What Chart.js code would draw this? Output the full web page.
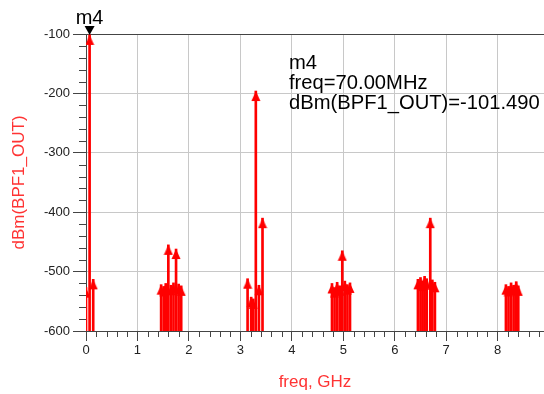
<!DOCTYPE html>
<html>
<head>
<meta charset="utf-8">
<script src="https://cdn.jsdelivr.net/npm/chart.js@4.4.0/dist/chart.umd.min.js"></script>
<style>
  html, body { margin: 0; padding: 0; background: #fff; }
</style>
</head>
<body>
<canvas id="specChart" width="544" height="394"></canvas>
<script>
// spectrum at the BPF1 output: frequency in GHz, level in dBm
var freqs = [0.00, 0.07, 0.14,
  1.46, 1.51, 1.55, 1.60, 1.65, 1.70, 1.75, 1.80, 1.85,
  3.14, 3.21, 3.25, 3.30, 3.36, 3.43,
  4.78, 4.83, 4.88, 4.93, 4.98, 5.03, 5.08, 5.13,
  6.45, 6.50, 6.54, 6.58, 6.62, 6.69, 6.73, 6.78,
  8.16, 8.21, 8.26, 8.31, 8.36, 8.40];
var levels = [-527, -101.49, -513,
  -522, -525, -520, -455, -523, -519, -462, -521, -524,
  -512, -543, -546, -196, -523, -410,
  -520, -527, -518, -524, -465, -516, -522, -519,
  -513, -510, -516, -508, -512, -410, -514, -518,
  -522, -525, -519, -523, -517, -524];
var xTicks = [0, 1, 2, 3, 4, 5, 6, 7, 8];
var yTicks = [-600, -500, -400, -300, -200, -100];

// marker m4
var markerName = 'm4';
var markerFreq = 0.07;
var markerLevel = -101.49;
var readout = ['m4', 'freq=70.00MHz', 'dBm(BPF1_OUT)=-101.490'];

var RED = '#ff0000';
var LABEL_RED = '#ff3333';
var AXIS = '#444444';

// arrow head image, tip at the centre so it sits on the value
var arrow = document.createElement('canvas');
arrow.width = 10; arrow.height = 22;
(function() {
  var c = arrow.getContext('2d');
  c.fillStyle = RED;
  c.beginPath();
  c.moveTo(5, 11);
  c.lineTo(0.5, 21);
  c.lineTo(9.5, 21);
  c.closePath();
  c.fill();
})();

var stems = freqs.map(function(f, i) { return { x: f, y: [-600, levels[i]] }; });
var heads = freqs.map(function(f, i) { return { x: f, y: levels[i] }; });

// minor ticks, marker and readout text
var extras = {
  id: 'extras',
  afterDraw: function(chart) {
    var ctx = chart.ctx, xs = chart.scales.x, ys = chart.scales.y, a = chart.chartArea;
    ctx.save();
    ctx.strokeStyle = AXIS;
    ctx.lineWidth = 1;
    ctx.beginPath();
    for (var v = -580; v < -100; v += 20) {
      if (v % 100 === 0) continue;
      var py = Math.round(ys.getPixelForValue(v)) + 0.5;
      ctx.moveTo(a.left - 7, py);
      ctx.lineTo(a.left, py);
    }
    for (var i = 1; i * 0.2 <= xs.max; i++) {
      if (i % 5 === 0) continue;
      var px = Math.round(xs.getPixelForValue(i * 0.2)) + 0.5;
      ctx.moveTo(px, a.bottom);
      ctx.lineTo(px, a.bottom + 6);
    }
    ctx.stroke();

    var mx = xs.getPixelForValue(markerFreq), my = ys.getPixelForValue(markerLevel);
    ctx.fillStyle = '#000';
    ctx.beginPath();
    ctx.moveTo(mx, my);
    ctx.lineTo(mx - 5, my - 9);
    ctx.lineTo(mx + 5, my - 9);
    ctx.closePath();
    ctx.fill();
    ctx.font = '20px "Liberation Sans", Arial, sans-serif';
    ctx.textAlign = 'center';
    ctx.textBaseline = 'alphabetic';
    ctx.fillText(markerName, mx, my - 11);

    ctx.font = '20.2px "Liberation Sans", Arial, sans-serif';
    ctx.textAlign = 'left';
    readout.forEach(function(t, k) { ctx.fillText(t, 289, 69 + k * 20); });
    ctx.restore();
  }
};

var ctx = document.getElementById('specChart').getContext('2d');
var chart = new Chart(ctx, {
  type: 'bar',
  data: {
    datasets: [{
      type: 'bar',
      data: stems,
      backgroundColor: RED,
      borderWidth: 0,
      barThickness: 2,
      grouped: false
    }, {
      type: 'scatter',
      data: heads,
      pointStyle: arrow,
      pointRadius: 5,
      pointHoverRadius: 5
    }]
  },
  options: {
    responsive: false,
    animation: false,
    devicePixelRatio: 1,
    layout: { autoPadding: false, padding: { top: 34, right: 0, left: 0, bottom: 0 } },
    plugins: { legend: { display: false }, tooltip: { enabled: false } },
    scales: {
      x: {
        type: 'linear',
        min: 0,
        max: 8.9,
        offset: false,
        afterBuildTicks: function(s) { s.ticks = xTicks.map(function(v) { return { value: v }; }); },
        afterFit: function(s) { s.height = 63; },
        ticks: {
          color: '#222',
          padding: 2,
          font: { family: '"Liberation Sans", Arial, sans-serif', size: 13 },
          maxRotation: 0
        },
        grid: { offset: false, color: '#c8c8c8', tickColor: AXIS, tickLength: 10 },
        border: { color: AXIS },
        title: {
          display: true,
          text: 'freq, GHz',
          color: LABEL_RED,
          font: { family: '"Liberation Sans", Arial, sans-serif', size: 17 },
          padding: { top: 0, bottom: 1 }
        }
      },
      y: {
        min: -600,
        max: -100,
        afterBuildTicks: function(s) { s.ticks = yTicks.map(function(v) { return { value: v }; }); },
        afterFit: function(s) { s.width = 86; },
        ticks: {
          color: '#222',
          padding: 3,
          font: { family: '"Liberation Sans", Arial, sans-serif', size: 13 }
        },
        grid: {
          color: function(c) { return c.tick && c.tick.value === -100 ? AXIS : '#c8c8c8'; },
          tickColor: AXIS,
          tickLength: 13
        },
        border: { color: AXIS },
        title: {
          display: true,
          text: 'dBm(BPF1_OUT)',
          color: LABEL_RED,
          font: { family: '"Liberation Sans", Arial, sans-serif', size: 17 },
          padding: { top: 9, bottom: 0 }
        }
      }
    }
  },
  plugins: [extras]
});
</script>
</body>
</html>
